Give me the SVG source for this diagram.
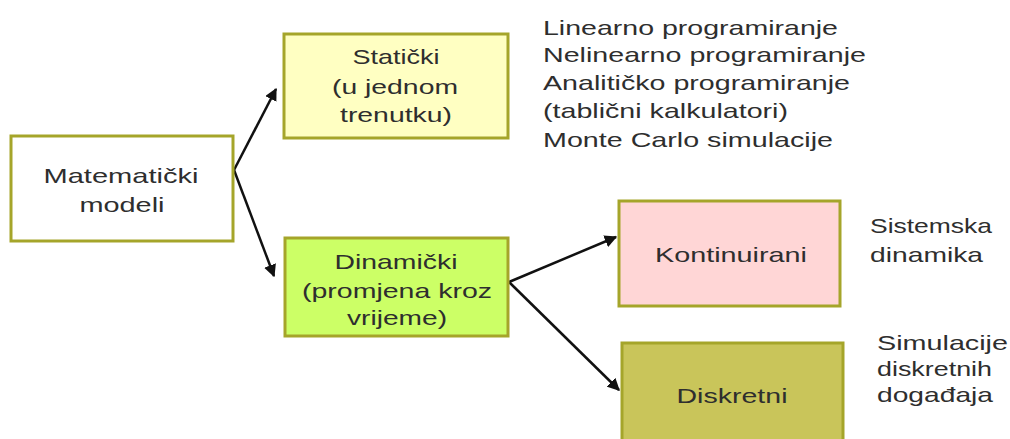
<svg xmlns="http://www.w3.org/2000/svg" width="1010" height="439" viewBox="0 0 1010 439">
<style>
text{font-family:"Liberation Sans",Arial,sans-serif;fill:#2e2e2e;}
.n{font-size:21px;text-anchor:middle;}
.l{font-size:21px;}
.box{stroke:#a5a52a;stroke-width:3;}
.c{stroke:#111;stroke-width:2.5;fill:none;marker-end:url(#ah);}
</style>
<defs>
<marker id="ah" viewBox="0 0 10 10" refX="9" refY="5" markerWidth="5" markerHeight="5" orient="auto" markerUnits="strokeWidth">
<path d="M0,0 L10,5 L0,10 z" fill="#111"/>
</marker>
</defs>
<rect width="1010" height="439" fill="#fff"/>
<g id="connectors">
<path class="c" d="M234,170 L276,89"/>
<path class="c" d="M234,170 L274,276"/>
<path class="c" d="M509,282 L616,237"/>
<path class="c" d="M509,282 L619,390"/>
</g>
<g id="matematicki">
<rect class="box" x="11" y="136" width="222" height="105" fill="#fff"/>
<text class="n" x="121" y="183" textLength="155" lengthAdjust="spacingAndGlyphs">Matematički</text>
<text class="n" x="122" y="212" textLength="85" lengthAdjust="spacingAndGlyphs">modeli</text>
</g>
<g id="staticki">
<rect class="box" x="284" y="34" width="224" height="104" fill="#ffffc2"/>
<text class="n" x="396" y="64" textLength="87" lengthAdjust="spacingAndGlyphs">Statički</text>
<text class="n" x="395" y="94" textLength="126" lengthAdjust="spacingAndGlyphs">(u jednom</text>
<text class="n" x="396" y="122" textLength="112" lengthAdjust="spacingAndGlyphs">trenutku)</text>
</g>
<g id="dinamicki">
<rect class="box" x="285" y="238" width="223" height="98" fill="#ccff66"/>
<text class="n" x="396" y="269" textLength="123" lengthAdjust="spacingAndGlyphs">Dinamički</text>
<text class="n" x="397" y="298" textLength="190" lengthAdjust="spacingAndGlyphs">(promjena kroz</text>
<text class="n" x="397" y="325" textLength="100" lengthAdjust="spacingAndGlyphs">vrijeme)</text>
</g>
<g id="kontinuirani">
<rect class="box" x="619" y="201" width="221" height="105" fill="#ffd6d6"/>
<text class="n" x="731" y="262" textLength="152" lengthAdjust="spacingAndGlyphs">Kontinuirani</text>
</g>
<g id="diskretni">
<rect class="box" x="622" y="343" width="221" height="100" fill="#c9c55a"/>
<text class="n" x="732" y="403" textLength="111" lengthAdjust="spacingAndGlyphs">Diskretni</text>
</g>
<g id="labels">
<text class="l" x="543" y="35" textLength="295" lengthAdjust="spacingAndGlyphs">Linearno programiranje</text>
<text class="l" x="543" y="62" textLength="323" lengthAdjust="spacingAndGlyphs">Nelinearno programiranje</text>
<text class="l" x="543" y="90" textLength="307" lengthAdjust="spacingAndGlyphs">Analitičko programiranje</text>
<text class="l" x="543" y="118" textLength="245" lengthAdjust="spacingAndGlyphs">(tablični kalkulatori)</text>
<text class="l" x="543" y="147" textLength="290" lengthAdjust="spacingAndGlyphs">Monte Carlo simulacije</text>
<text class="l" x="870" y="233" textLength="122" lengthAdjust="spacingAndGlyphs">Sistemska</text>
<text class="l" x="870" y="262" textLength="113" lengthAdjust="spacingAndGlyphs">dinamika</text>
<text class="l" x="877" y="350" textLength="131" lengthAdjust="spacingAndGlyphs">Simulacije</text>
<text class="l" x="877" y="376" textLength="115" lengthAdjust="spacingAndGlyphs">diskretnih</text>
<text class="l" x="877" y="402" textLength="116" lengthAdjust="spacingAndGlyphs">događaja</text>
</g>
</svg>
